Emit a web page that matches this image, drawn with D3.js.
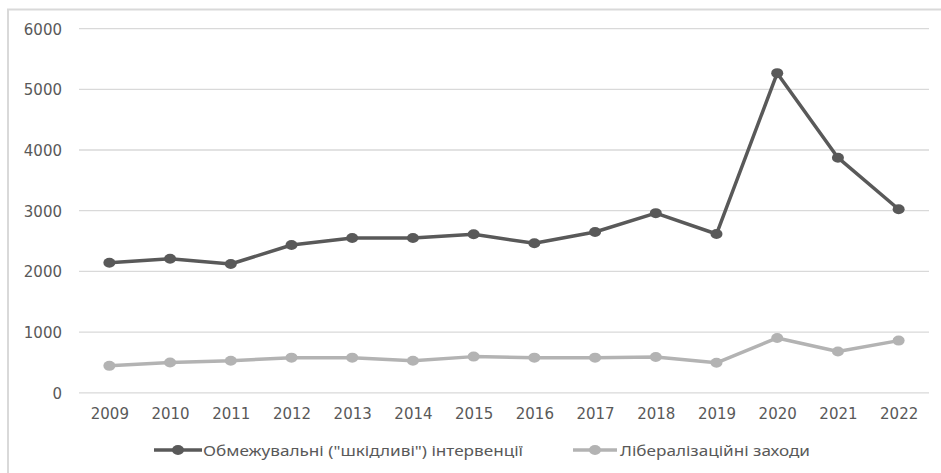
<!DOCTYPE html>
<html>
<head>
<meta charset="utf-8">
<script src="https://cdn.jsdelivr.net/npm/d3@7"></script>
<style>
  html, body { margin: 0; padding: 0; background: #ffffff; }
  svg { display: block; }
</style>
</head>
<body>
<svg id="chart" width="941" height="473"></svg>
<script>
const years = ["2009","2010","2011","2012","2013","2014","2015","2016","2017","2018","2019","2020","2021","2022"];
const harmful = [2143, 2209, 2122, 2435, 2550, 2550, 2611, 2463, 2649, 2960, 2616, 5266, 3873, 3024];
const liberal = [444, 500, 528, 579, 579, 528, 596, 579, 579, 590, 494, 904, 680, 860];
const yTicks = [0, 1000, 2000, 3000, 4000, 5000, 6000];
const seriesNames = ["Обмежувальні (\"шкідливі\") інтервенції", "Лібералізаційні заходи"];
const seriesColors = ["#595959", "#b3b3b3"];

const svg = d3.select("#chart");

// outer frame (cropped at right/bottom)
svg.append("path")
  .attr("d", "M8,480 L8,9.5 L950,9.5")
  .attr("fill", "none")
  .attr("stroke", "#d9d9d9")
  .attr("stroke-width", 2);

const x = d3.scalePoint().domain(years).range([79, 929]).padding(0.5);
const y = d3.scaleLinear().domain([0, 6000]).range([392.8, 28.6]);

// gridlines
svg.append("g").selectAll("line").data(yTicks).join("line")
  .attr("x1", 79).attr("x2", 929)
  .attr("y1", d => y(d)).attr("y2", d => y(d))
  .attr("stroke", "#d9d9d9").attr("stroke-width", 1.3);

// y axis labels
const yAxis = d3.axisLeft(y).tickValues(yTicks).tickSize(0).tickPadding(0).tickFormat(d3.format("d"));
const gy = svg.append("g").attr("transform", "translate(62,0)").call(yAxis);
gy.select(".domain").remove();
gy.selectAll("text")
  .attr("font-family", "DejaVu Sans")
  .attr("font-size", 15)
  .attr("fill", "#595959")
  .attr("dy", "0.36em");

// x axis labels
const xAxis = d3.axisBottom(x).tickSize(0).tickPadding(0);
const gx = svg.append("g").attr("transform", "translate(0,392.8)").call(xAxis);
gx.select(".domain").remove();
gx.selectAll("text")
  .attr("font-family", "DejaVu Sans")
  .attr("font-size", 15)
  .attr("fill", "#595959")
  .attr("dy", null)
  .attr("y", 26.7);

// series
const allSeries = [harmful, liberal];
const line = d3.line().x((d, i) => x(years[i])).y(d => y(d));
allSeries.slice().reverse().forEach((vals, ri) => {
  const si = allSeries.length - 1 - ri;
  const g = svg.append("g");
  g.append("path").datum(vals)
    .attr("d", line)
    .attr("fill", "none")
    .attr("stroke", seriesColors[si])
    .attr("stroke-width", 3.5)
    .attr("stroke-linejoin", "round");
  g.selectAll("ellipse").data(vals).join("ellipse")
    .attr("cx", (d, i) => x(years[i]))
    .attr("cy", d => y(d))
    .attr("rx", 6).attr("ry", 5)
    .attr("fill", seriesColors[si]);
});

// legend
const legendItems = [
  { x1: 154, x2: 202, tx: 203, tw: 320 },
  { x1: 573, x2: 617, tx: 620, tw: 190 }
];
const lg = svg.append("g");
legendItems.forEach((it, i) => {
  const ly = 450;
  lg.append("line").attr("x1", it.x1).attr("x2", it.x2).attr("y1", ly).attr("y2", ly)
    .attr("stroke", seriesColors[i]).attr("stroke-width", 3.5);
  lg.append("ellipse").attr("cx", (it.x1 + it.x2) / 2).attr("cy", ly).attr("rx", 6).attr("ry", 5)
    .attr("fill", seriesColors[i]);
  lg.append("text").attr("x", it.tx).attr("y", ly + 5.5)
    .attr("font-family", "Noto Sans")
    .attr("font-size", 15)
    .attr("fill", "#595959")
    .attr("textLength", it.tw)
    .attr("lengthAdjust", "spacingAndGlyphs")
    .text(seriesNames[i]);
});
</script>
</body>
</html>
